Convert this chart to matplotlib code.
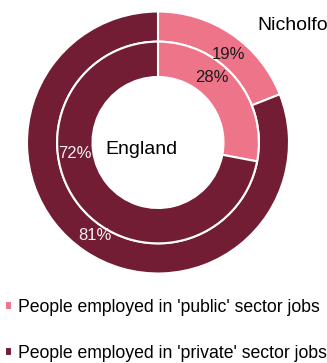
import numpy as np
import matplotlib
matplotlib.use("Agg")
import matplotlib.pyplot as plt

plt.rcParams['font.family'] = ['Liberation Sans', 'DejaVu Sans']

categories = ["People employed in 'public' sector jobs",
              "People employed in 'private' sector jobs"]
nicholforest = [19, 81]   # outer ring
england = [28, 72]        # inner ring
colors = ['#EE7489', '#731D34']
pct_colors = ['#1a1a1a', '#f2f2f2']

W, H = 327, 363
cx, cy, R = 158, 142.5, 131.0

fig = plt.figure(figsize=(W / 100, H / 100), dpi=100)
ax = fig.add_axes([0, 0, 1, 1])
ax.axis('off')

wedge_kw = dict(edgecolor='white', linewidth=1.5)
outer, _ = ax.pie(nicholforest, radius=1.0, colors=colors, startangle=90,
                  counterclock=False, wedgeprops=dict(width=0.23, **wedge_kw))
inner, _ = ax.pie(england, radius=0.77, colors=colors, startangle=90,
                  counterclock=False, wedgeprops=dict(width=0.27, **wedge_kw))
ax.set_aspect('auto')
ax.set_xlim(-cx / R, (W - cx) / R)
ax.set_ylim(-(H - cy) / R, cy / R)


def label(vals, r, shifts):
    start = 0.0
    for v, c, s in zip(vals, pct_colors, shifts):
        frac = (start + v / 2) / 100 + s
        ang = np.deg2rad(90 - 360 * frac)
        ax.text(r * np.cos(ang), r * np.sin(ang), f'{v}%', ha='center',
                va='center', fontsize=12, color=c)
        start += v


label(nicholforest, 0.86, [0.012, 0.0])
label(england, 0.64, [-0.03, 0.09])

# ring titles (outer one runs off the right edge as in the original)
ax.text((257 - cx) / R, (cy - 25) / R, 'Nicholforest', fontsize=14,
        ha='left', va='center', color='black')
ax.text((141 - cx) / R, (cy - 150) / R, 'England', fontsize=14,
        ha='center', va='center', color='black')

fig.legend(outer, categories, loc='upper left', bbox_to_anchor=(-0.005, 0.197),
           frameon=False, fontsize=12.7, handlelength=0.4, handleheight=0.4,
           handletextpad=0.3, labelspacing=1.68, borderaxespad=0)

fig.savefig('out.png', dpi=100)
